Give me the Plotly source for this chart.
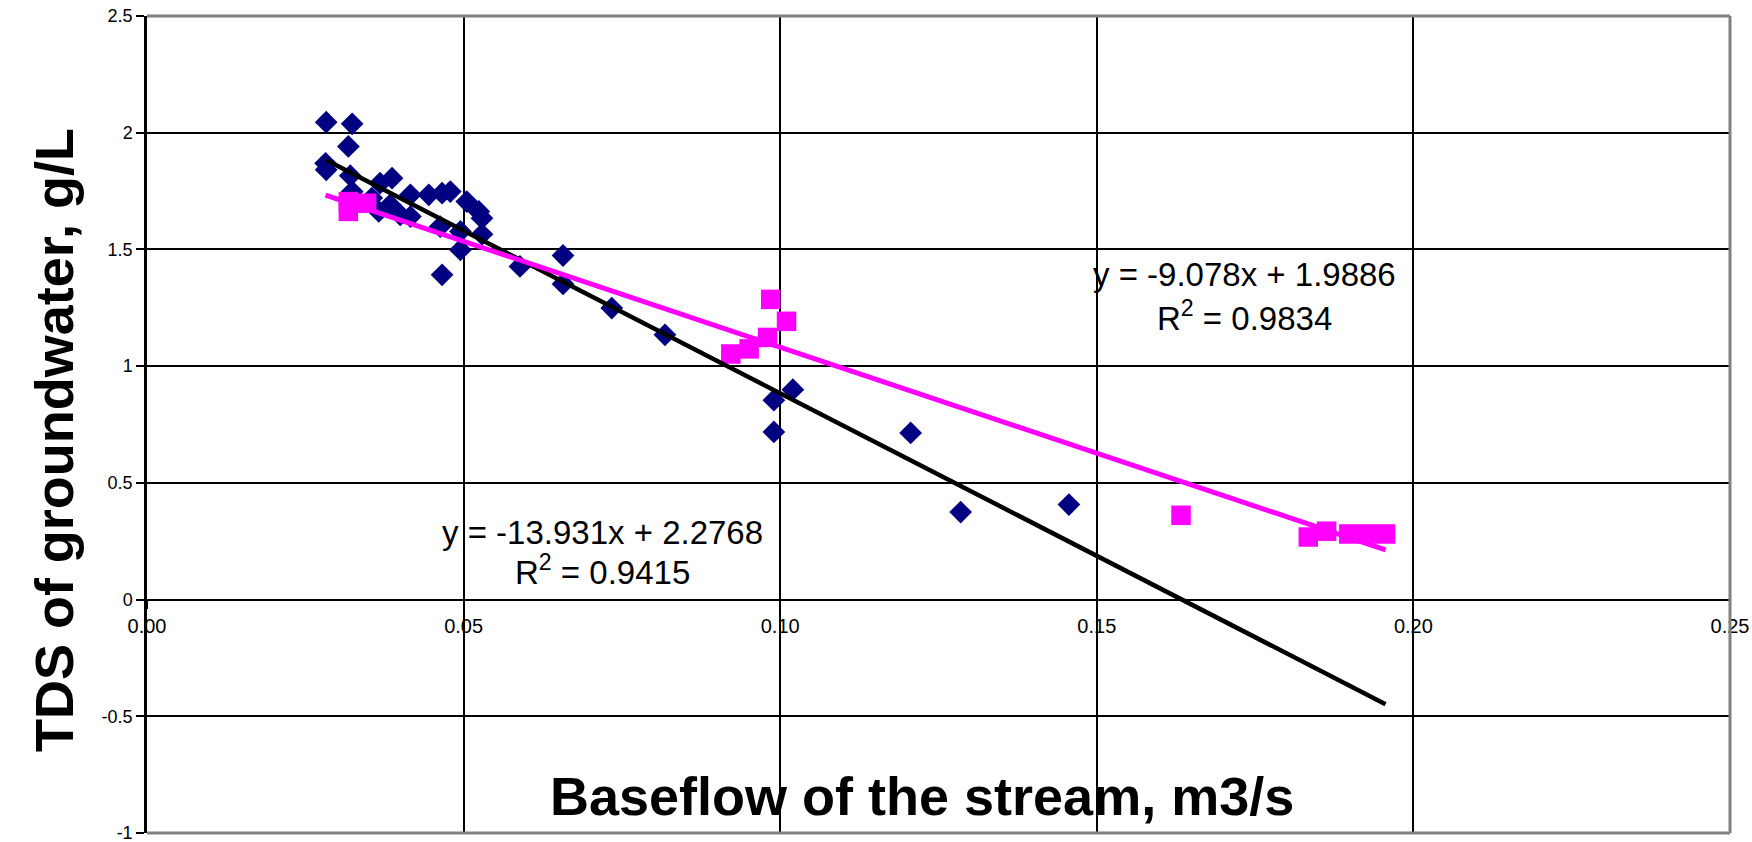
import plotly.graph_objects as go

# ---- data ----
blue_x = [0.0283, 0.0324, 0.0318, 0.0282, 0.0283, 0.0321, 0.0324, 0.0368, 0.0387, 0.0355,
          0.0366, 0.0384, 0.0416, 0.0400, 0.0416, 0.0445, 0.0466, 0.0479, 0.0505, 0.0524,
          0.0529, 0.0463, 0.0529, 0.0495, 0.0495, 0.0466, 0.0589, 0.0657, 0.0657, 0.0734,
          0.0818, 0.0990, 0.1020, 0.0990, 0.1206, 0.1285, 0.1456]
blue_y = [2.045, 2.038, 1.941, 1.869, 1.841, 1.816, 1.748, 1.784, 1.805, 1.720,
          1.663, 1.691, 1.734, 1.648, 1.641, 1.734, 1.741, 1.748, 1.705, 1.663,
          1.634, 1.598, 1.565, 1.577, 1.498, 1.391, 1.427, 1.474, 1.352, 1.249,
          1.134, 0.854, 0.899, 0.718, 0.714, 0.375, 0.407]

pink_x = [0.0318, 0.0318, 0.0347, 0.0922, 0.0951, 0.0980, 0.0985, 0.1010, 0.1633,
          0.1834, 0.1863, 0.1898, 0.1927, 0.1956]
pink_y = [1.705, 1.663, 1.698, 1.052, 1.074, 1.123, 1.286, 1.192, 0.361,
          0.268, 0.293, 0.281, 0.281, 0.281]

# trendline coefficients (from the chart labels)
blue_fit = {"slope": -13.931, "intercept": 2.2768, "r2": 0.9415}
pink_fit = {"slope": -9.078, "intercept": 1.9886, "r2": 0.9834}

x_tickvals = [0.00, 0.05, 0.10, 0.15, 0.20, 0.25]
x_ticktext = ["0.00", "0.05", "0.10", "0.15", "0.20", "0.25"]
y_tickvals = [2.5, 2, 1.5, 1, 0.5, 0, -0.5, -1]
y_ticktext = ["2.5", "2", "1.5", "1", "0.5", "0", "-0.5", "-1"]

x_title = "Baseflow of the stream, m3/s"
y_title = "TDS of groundwater, g/L"

# ---- figure ----
all_x = blue_x + pink_x
x_lo, x_hi = min(all_x), max(all_x)

def fit_line(fit):
    xs = [x_lo, x_hi]
    return xs, [fit["slope"] * v + fit["intercept"] for v in xs]

def eq_text(fit):
    return f"y = {fit['slope']}x + {fit['intercept']}".replace("+ -", "- ")

FONT = "Liberation Sans, Arial, sans-serif"

fig = go.Figure()
fig.add_trace(go.Scatter(x=blue_x, y=blue_y, mode="markers",
                         marker=dict(symbol="diamond", size=17.5, color="#000080",
                                     line=dict(width=0)), showlegend=False))
fig.add_trace(go.Scatter(x=pink_x, y=pink_y, mode="markers",
                         marker=dict(symbol="square", size=19.5, color="#FF00FF",
                                     line=dict(width=0)), showlegend=False))
bx, by = fit_line(blue_fit)
px, py = fit_line(pink_fit)
fig.add_trace(go.Scatter(x=bx, y=by, mode="lines", line=dict(color="black", width=4.5),
                         showlegend=False))
fig.add_trace(go.Scatter(x=px, y=py, mode="lines", line=dict(color="#FF00FF", width=5),
                         showlegend=False))

fig.update_layout(
    width=1752, height=842,
    margin=dict(l=147, r=22, t=16, b=9, autoexpand=False),
    paper_bgcolor="white", plot_bgcolor="white",
    font=dict(family=FONT, color="black"),
    xaxis=dict(range=[0, 0.25], tickvals=x_tickvals, ticktext=x_ticktext,
               showgrid=True, gridcolor="black", gridwidth=2,
               zeroline=False, showline=True, linecolor="black", linewidth=2,
               anchor="free", position=1 / 3.5, ticklabeloverflow="allow",
               automargin=False,
               ticks="outside", ticklen=8, tickwidth=2, tickcolor="black",
               tickfont=dict(size=20, family=FONT, color="black")),
    yaxis=dict(range=[-1, 2.5], tickvals=y_tickvals, ticktext=y_ticktext,
               showgrid=True, gridcolor="black", gridwidth=2,
               zeroline=False, showline=True, linecolor="black", linewidth=2.5,
               ticklabeloverflow="allow", automargin=False,
               ticks="outside", ticklen=8, tickwidth=2, tickcolor="black",
               tickfont=dict(size=18, family=FONT, color="black")),
)

# grey frame on top, right and bottom
for x0, y0, x1, y1 in [(0, 1, 1, 1), (1, 0, 1, 1), (0, 0, 1, 0)]:
    fig.add_shape(type="line", xref="paper", yref="paper", x0=x0, y0=y0, x1=x1, y1=y1,
                  line=dict(color="#808080", width=3), layer="above")

ann_font = dict(family=FONT, size=33, color="black")
fig.add_annotation(x=0.1733, y=1.394, xref="x", yref="y", text=eq_text(pink_fit),
                   showarrow=False, font=ann_font, xanchor="center", yanchor="middle")
fig.add_annotation(x=0.1733, y=1.214, xref="x", yref="y",
                   text=f"R<sup>2</sup> = {pink_fit['r2']}", showarrow=False, font=ann_font,
                   xanchor="center", yanchor="middle")
fig.add_annotation(x=0.0719, y=0.286, xref="x", yref="y", text=eq_text(blue_fit),
                   showarrow=False, font=ann_font, xanchor="center", yanchor="middle")
fig.add_annotation(x=0.0719, y=0.127, xref="x", yref="y",
                   text=f"R<sup>2</sup> = {blue_fit['r2']}", showarrow=False, font=ann_font,
                   xanchor="center", yanchor="middle")

title_font = dict(family=FONT, size=54, color="black")
fig.add_annotation(x=0.4896, y=0.045, xref="paper", yref="paper", text=f"<b>{x_title}</b>",
                   showarrow=False, font=title_font, xanchor="center", yanchor="middle")
fig.add_annotation(x=-0.0587, y=0.481, xref="paper", yref="paper", text=f"<b>{y_title}</b>",
                   textangle=-90, showarrow=False, font=title_font,
                   xanchor="center", yanchor="middle")

# the page is exactly the chart size: drop the browser's default body margin
fig.write_html("out.html", config={"displayModeBar": False},
               post_script="document.body.style.margin='0px';"
                           "document.body.style.overflow='hidden';")
